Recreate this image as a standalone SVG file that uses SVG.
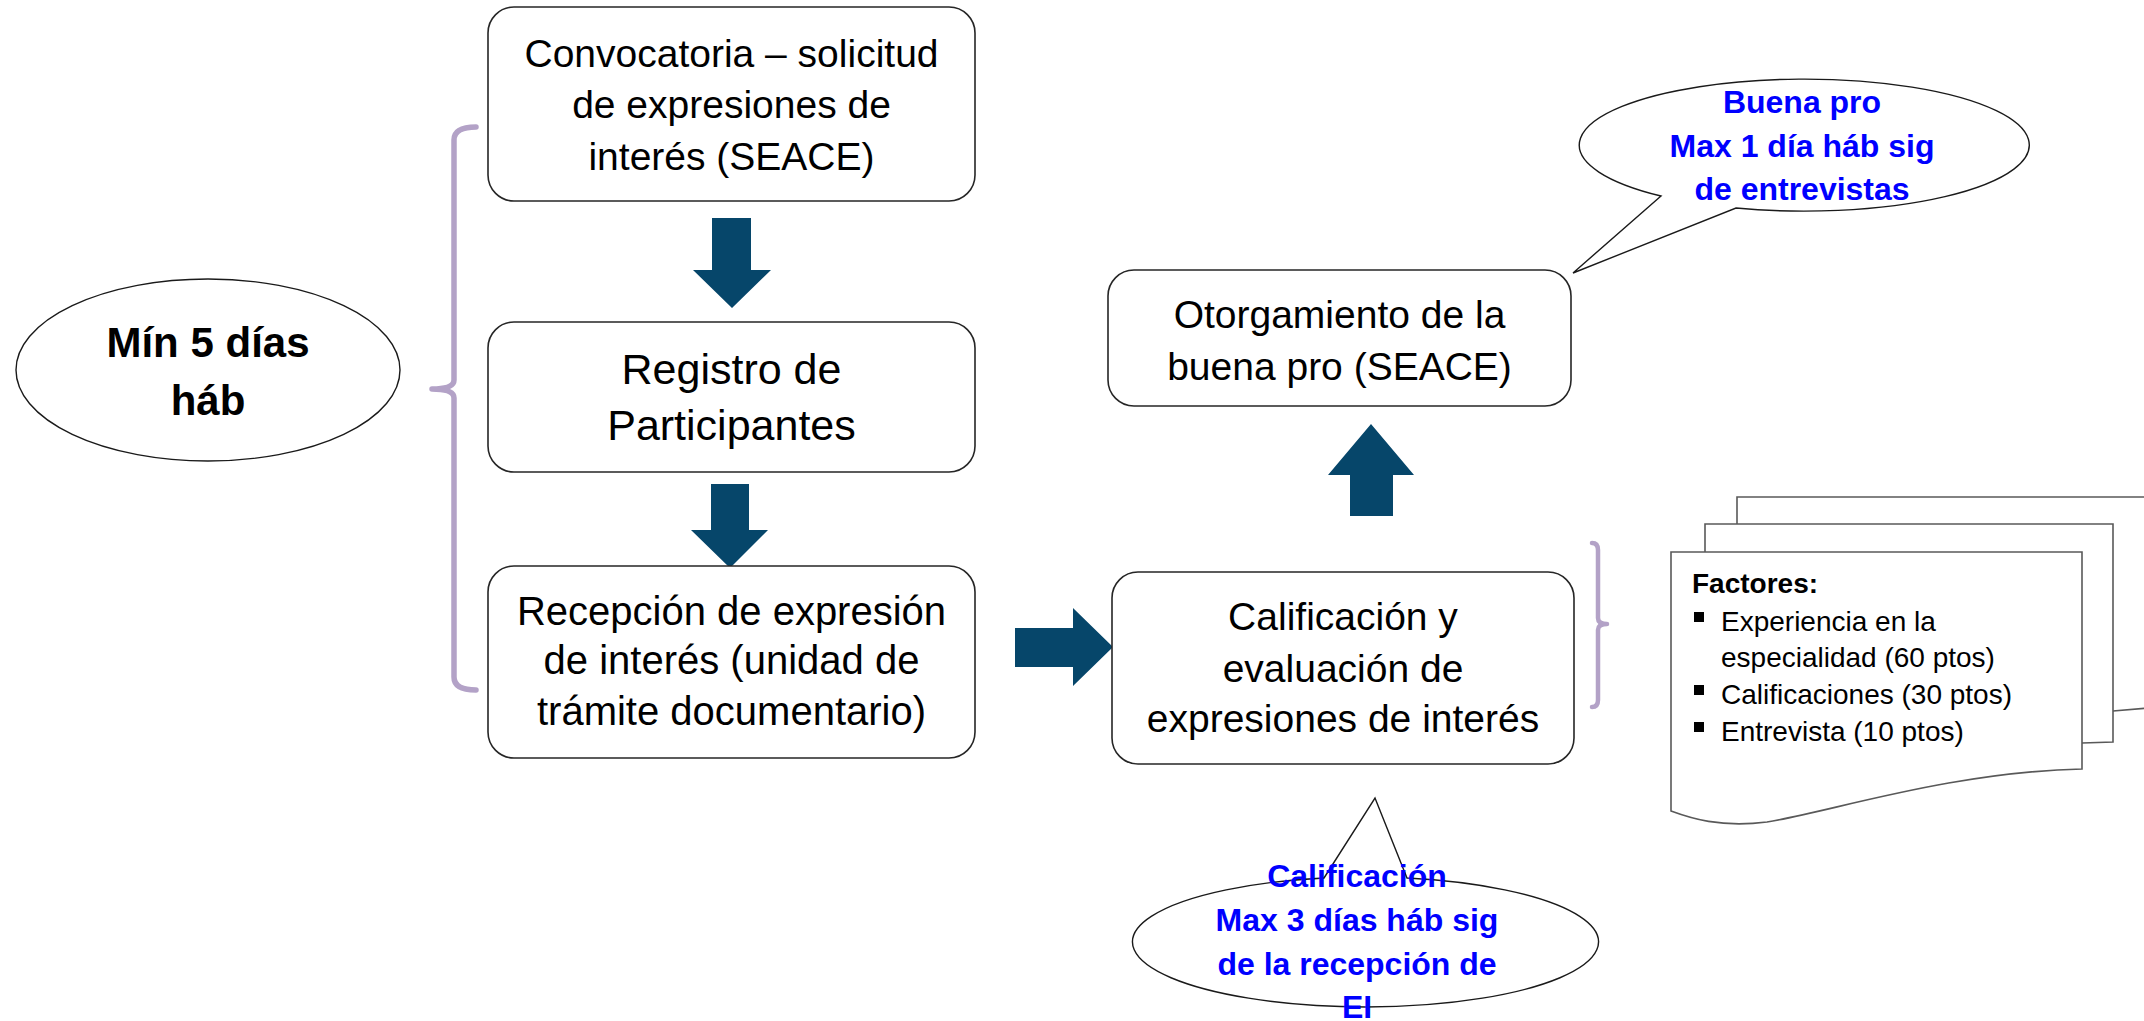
<svg xmlns="http://www.w3.org/2000/svg" width="2144" height="1021" viewBox="0 0 2144 1021">
<style>
.box{fill:#fff;stroke:#262626;stroke-width:1.6}
.ell{fill:#fff;stroke:#1a1a1a;stroke-width:1.4}
.t{font-family:"Liberation Sans",Arial,sans-serif;fill:#000;text-anchor:middle}
.b{font-family:"Liberation Sans",Arial,sans-serif;font-weight:bold;fill:#0000FF;text-anchor:middle;font-size:32px}
.arr{fill:#06466A}
.brace{fill:none;stroke:#B3A2C7;stroke-linecap:round;stroke-linejoin:round}
.doc{fill:#fff;stroke:#595959;stroke-width:1.6}
.f{font-family:"Liberation Sans",Arial,sans-serif;font-size:28px;fill:#000}
</style>
<rect width="2144" height="1021" fill="#fff"/>

<g id="connectors">
  <path class="arr" d="M712,218 H751 V270 H771 L732,308 L693,270 H712 Z"/>
  <path class="arr" d="M711,484 H749 V530 H768 L730,568 L691,530 H711 Z"/>
  <path class="arr" d="M1015,628 H1073 V608 L1113,647 L1073,686 V667 H1015 Z"/>
  <path class="arr" d="M1350,516 V475 H1328 L1371,424 L1414,475 H1393 V516 Z"/>
  <path class="brace" stroke-width="5.5" d="M476,127 Q454,127 454,140 V380 Q454,389 432,389 Q454,389 454,398 V677 Q454,690 476,690"/>
  <path class="brace" stroke-width="4.5" d="M1592,543 Q1598,543 1598,550 V618 Q1598,624 1607,624 Q1598,624 1598,630 V700 Q1598,707 1592,707"/>
</g>

<g id="min5">
  <ellipse class="ell" cx="208" cy="370" rx="192" ry="91"/>
  <text class="t" x="208" y="357" font-size="42" font-weight="bold">Mín 5 días</text>
  <text class="t" x="208" y="415" font-size="42" font-weight="bold">háb</text>
</g>

<g id="convocatoria">
  <rect class="box" x="488" y="7" width="487" height="194" rx="26"/>
  <text class="t" x="731.5" y="67" font-size="39">Convocatoria – solicitud</text>
  <text class="t" x="731.5" y="118" font-size="39">de expresiones de</text>
  <text class="t" x="731.5" y="170" font-size="39">interés (SEACE)</text>
</g>

<g id="registro">
  <rect class="box" x="488" y="322" width="487" height="150" rx="26"/>
  <text class="t" x="731.5" y="384" font-size="43">Registro de</text>
  <text class="t" x="731.5" y="440" font-size="43">Participantes</text>
</g>

<g id="recepcion">
  <rect class="box" x="488" y="566" width="487" height="192" rx="26"/>
  <text class="t" x="731.5" y="625" font-size="40">Recepción de expresión</text>
  <text class="t" x="731.5" y="674" font-size="40">de interés (unidad de</text>
  <text class="t" x="731.5" y="725" font-size="40">trámite documentario)</text>
</g>

<g id="calificacion">
  <rect class="box" x="1112" y="572" width="462" height="192" rx="26"/>
  <text class="t" x="1343" y="630" font-size="39">Calificación y</text>
  <text class="t" x="1343" y="682" font-size="39">evaluación de</text>
  <text class="t" x="1343" y="732" font-size="39">expresiones de interés</text>
</g>

<g id="otorgamiento">
  <rect class="box" x="1108" y="270" width="463" height="136" rx="26"/>
  <text class="t" x="1339.5" y="328" font-size="39">Otorgamiento de la</text>
  <text class="t" x="1339.5" y="380" font-size="39">buena pro (SEACE)</text>
</g>

<g id="bubble-buenapro">
  <path class="ell" d="M1661,196 L1573,273 L1736,208 A225,66 0 1,0 1661,196 Z"/>
  <text class="b" x="1802" y="113">Buena pro</text>
  <text class="b" x="1802" y="157">Max 1 día háb sig</text>
  <text class="b" x="1802" y="200">de entrevistas</text>
</g>

<g id="bubble-calificacion">
  <path class="ell" d="M1324,878 L1375,798 L1407,878 A233,65 0 1,1 1324,878 Z"/>
  <text class="b" x="1357" y="887">Calificación</text>
  <text class="b" x="1357" y="931">Max 3 días háb sig</text>
  <text class="b" x="1357" y="975">de la recepción de</text>
  <text class="b" x="1357" y="1018">EI</text>
</g>

<g id="factores">
  <path class="doc" d="M1737,497 H2160 V707 L2113,711 L1737,740 Z"/>
  <path class="doc" d="M1705,524 H2113 V742 L2082,743 L1705,780 Z"/>
  <path class="doc" d="M1671,552 H2082 V769 C1950,772 1830,812 1767,822 C1720,828 1690,818 1671,811 Z"/>
  <text class="f" x="1692" y="593" font-weight="bold">Factores:</text>
  <rect x="1694" y="612" width="10" height="10" fill="#000"/>
  <text class="f" x="1721" y="631">Experiencia en la</text>
  <text class="f" x="1721" y="667">especialidad (60 ptos)</text>
  <rect x="1694" y="685" width="10" height="10" fill="#000"/>
  <text class="f" x="1721" y="704">Calificaciones (30 ptos)</text>
  <rect x="1694" y="722" width="10" height="10" fill="#000"/>
  <text class="f" x="1721" y="741">Entrevista (10 ptos)</text>
</g>
</svg>
